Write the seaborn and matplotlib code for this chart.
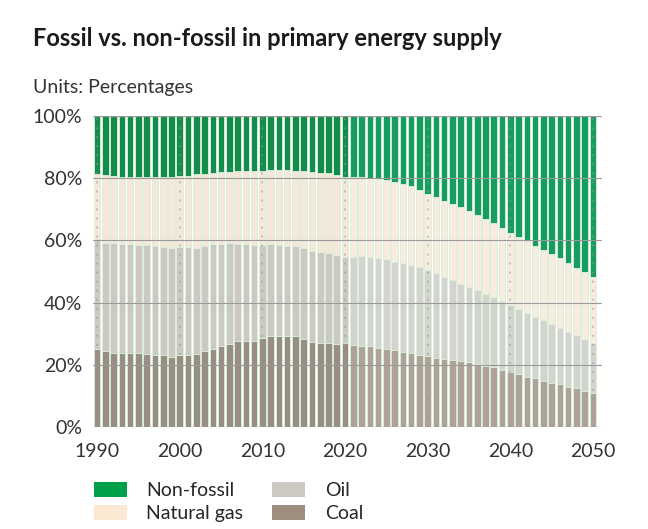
import pandas as pd
import matplotlib.pyplot as plt
import seaborn as sns
from matplotlib.patches import Patch

# --- Data (shares of primary energy supply, %) ---
years = list(range(1990, 2051))

coal = [25.1, 24.4, 23.9, 23.8, 23.8, 23.7, 23.5, 23.2, 23.0, 22.6,
        23.0, 23.2, 23.5, 24.4, 25.1, 26.0, 26.7, 27.5, 27.6, 27.8,
        28.6, 29.3, 29.1, 29.1, 29.1, 28.2, 27.2, 27.0, 26.9, 26.6,
        26.9, 26.5, 26.1, 25.9, 25.5, 25.2, 24.6, 24.1, 23.8, 23.3,
        22.8, 22.3, 21.9, 21.6, 21.1, 20.8, 20.3, 19.7, 19.2, 18.4,
        17.6, 17.0, 16.2, 15.6, 14.9, 14.3, 13.8, 12.9, 12.4, 11.6,
        11.0]

oil = [35.0, 34.9, 35.2, 35.0, 35.0, 34.8, 35.0, 35.1, 35.0, 35.1,
       35.0, 34.6, 34.2, 33.8, 33.7, 32.8, 32.4, 31.3, 31.1, 30.7,
       29.9, 29.5, 29.4, 29.2, 29.1, 29.5, 29.4, 29.4, 28.9, 28.7,
       27.8, 28.2, 29.0, 28.8, 28.9, 28.7, 28.6, 28.7, 28.2, 28.2,
       27.7, 27.1, 26.2, 25.6, 25.0, 24.2, 23.7, 23.2, 22.6, 22.0,
       21.5, 20.8, 20.4, 19.7, 19.4, 18.9, 18.1, 17.8, 17.2, 16.7,
       16.0]

natural_gas = [21.4, 21.6, 21.5, 21.7, 21.6, 21.9, 21.8, 22.2, 22.4, 22.6,
               22.7, 23.0, 23.6, 23.3, 22.9, 23.1, 23.0, 23.4, 23.7, 23.8,
               23.8, 23.9, 24.2, 24.3, 24.2, 24.5, 25.3, 25.4, 25.9, 25.8,
               25.8, 25.7, 25.3, 25.4, 25.3, 25.4, 25.7, 25.4, 25.4, 24.8,
               24.5, 24.4, 24.6, 24.4, 24.5, 24.5, 24.2, 24.0, 23.7, 23.7,
               23.4, 23.3, 23.2, 23.0, 22.6, 22.4, 22.3, 21.9, 21.6, 21.4,
               21.3]

non_fossil = [18.5, 19.1, 19.4, 19.5, 19.6, 19.6, 19.7, 19.5, 19.6, 19.7,
              19.3, 19.2, 18.7, 18.5, 18.3, 18.1, 17.9, 17.8, 17.6, 17.7,
              17.7, 17.3, 17.3, 17.4, 17.6, 17.8, 18.1, 18.2, 18.3, 18.9,
              19.5, 19.6, 19.6, 19.9, 20.3, 20.7, 21.1, 21.8, 22.6, 23.7,
              25.0, 26.2, 27.3, 28.4, 29.4, 30.5, 31.8, 33.1, 34.5, 35.9,
              37.5, 38.9, 40.2, 41.7, 43.1, 44.4, 45.8, 47.4, 48.8, 50.3,
              51.7]

first_projection_year = 2021
decades = [1990, 2000, 2010, 2020, 2030, 2040, 2050]

fuels = ['Coal', 'Oil', 'Natural gas', 'Non-fossil']
colors = {
    'Coal': {'hist': '#9d8e80', 'proj': '#b3a194'},
    'Oil': {'hist': '#cdc8c2', 'proj': '#d6d3ce'},
    'Natural gas': {'hist': '#fbe8d3', 'proj': '#fcecdb'},
    'Non-fossil': {'hist': '#00a049', 'proj': '#00b361'},
}

df = pd.DataFrame({'year': years, 'Coal': coal, 'Oil': oil,
                   'Natural gas': natural_gas, 'Non-fossil': non_fossil})
df['phase'] = ['proj' if y >= first_projection_year else 'hist' for y in df['year']]

# cumulative tops for stacking
cum = df[fuels].cumsum(axis=1)

# --- Plot ---
sns.set_style("white")
plt.rcParams['font.family'] = ['Lato', 'DejaVu Sans']

fig = plt.figure(figsize=(6.48, 5.29), dpi=100)
ax = fig.add_axes([93 / 648, (529 - 427) / 529, (602 - 93) / 648, 311 / 529])

# draw from the top layer down so each one covers the part below
for fuel in reversed(fuels):
    layer = pd.DataFrame({'year': df['year'], 'top': cum[fuel], 'phase': df['phase']})
    sns.barplot(data=layer, x='year', y='top', hue='phase', palette=colors[fuel],
                dodge=False, native_scale=True, width=0.8, legend=False,
                edgecolor='#dcf2dc', linewidth=0.6, ax=ax)

# dotted markers on decade bars
ax.vlines(decades, 0, 100, colors='#9c948c', linestyles=(0, (1, 4)),
          linewidth=1.3, alpha=0.6, zorder=3)

ax.set_xlim(1989.5, 2051.1)
ax.set_ylim(0, 100)
ax.set_yticks(range(0, 101, 20))
ax.set_yticklabels([f'{v}%' for v in range(0, 101, 20)])
ax.set_xticks(decades)
ax.set_xticklabels([str(d) for d in decades])
ax.set_xlabel('')
ax.set_ylabel('')
ax.grid(axis='y', color='#9a9a9a', linewidth=0.8)
ax.set_axisbelow(False)
for s in ax.spines.values():
    s.set_visible(False)
ax.tick_params(axis='y', length=4.3, color='#9a9a9a', width=0.8, pad=3.5,
               labelsize=14, labelcolor='#333333')
ax.tick_params(axis='x', length=0, pad=11.5, labelsize=14, labelcolor='#333333')

fig.text(33 / 648, 1 - 38 / 529, 'Fossil vs. non-fossil in primary energy supply',
         fontsize=17, fontweight='bold', color='#1a1a1a', va='center')
fig.text(33 / 648, 1 - 87 / 529, 'Units: Percentages',
         fontsize=14, color='#333333', va='center')

handles = [Patch(facecolor=colors[f]['hist'], edgecolor='none') for f in
           ['Non-fossil', 'Natural gas', 'Oil', 'Coal']]
fig.legend(handles, ['Non-fossil', 'Natural gas', 'Oil', 'Coal'], ncol=2,
           loc='upper left', bbox_to_anchor=(76 / 648, 1 - 464 / 529),
           frameon=False, fontsize=14, handlelength=1.7, handleheight=0.85,
           handletextpad=1.0, columnspacing=1.5, labelspacing=0.3)

plt.savefig('out.png', dpi=100)
plt.close()
